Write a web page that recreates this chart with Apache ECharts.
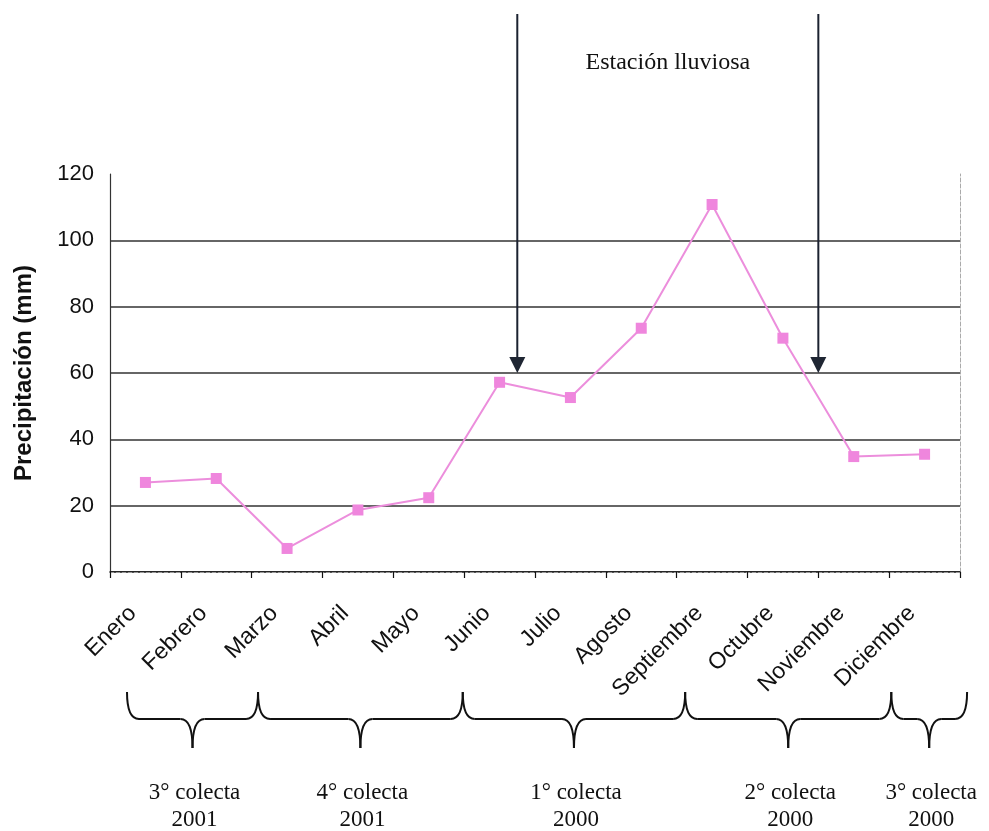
<!DOCTYPE html>
<html><head><meta charset="utf-8">
<script src="https://cdn.jsdelivr.net/npm/echarts@6/dist/echarts.min.js"></script>
<style>html,body{margin:0;padding:0;background:#fff}#c{width:989px;height:831px}</style>
</head><body><div id="c"></div>
<script>
// ---- data ----
const months = ['Enero','Febrero','Marzo','Abril','Mayo','Junio','Julio','Agosto','Septiembre','Octubre','Noviembre','Diciembre'];
const precipitation = [27, 28.2, 7.1, 18.7, 22.4, 57.2, 52.6, 73.5, 110.8, 70.5, 34.8, 35.5];
const yMin = 0, yMax = 120, yStep = 20;
const yTitle = 'Precipitación (mm)';
// arrows marking the rainy season, on a month-boundary scale (0 = start of Enero, 12 = end of Diciembre)
const arrowPositions = [5.75, 10];
const arrowTipValue = 60;
const seasonLabel = 'Estación lluviosa';
// collection-period braces (edges on the same month-boundary scale)
const braceEdges = [0.24, 2.09, 4.98, 8.12, 11.03, 12.1];
const braceLabels = ['3° colecta\n2001', '4° colecta\n2001', '1° colecta\n2000', '2° colecta\n2000', '3° colecta\n2000'];

// ---- chart ----
const SANS = '"Liberation Sans", Arial, sans-serif';
const SERIF = '"Liberation Serif", "Times New Roman", serif';
const chart = echarts.init(document.getElementById('c'), null, {renderer: 'canvas'});
const splitColors = [];
for (let v = yMin; v <= yMax; v += yStep) splitColors.push(v === yMax ? 'rgba(0,0,0,0)' : '#333');

chart.setOption({
  animation: false,
  backgroundColor: '#fff',
  grid: {left: 110, top: 174, right: 29, bottom: 259, containLabel: false},
  xAxis: [
    {
      type: 'category', data: months, position: 'bottom', boundaryGap: true,
      axisLine: {lineStyle: {color: '#111', width: 1.5}},
      axisTick: {show: true, length: 6, lineStyle: {color: '#111', width: 1.2}},
      axisLabel: {rotate: 45, interval: 0, fontSize: 23, fontFamily: SANS, color: '#111', margin: 25, padding: [0, 18, 0, 0]},
      splitLine: {show: false}
    },
    {
      type: 'value', min: 0, max: 12, position: 'top',
      axisLine: {show: true, lineStyle: {color: '#999', type: 'dashed', width: 1}},
      axisTick: {show: false}, axisLabel: {show: false}, splitLine: {show: false}
    }
  ],
  yAxis: [
    {
      type: 'value', min: yMin, max: yMax, interval: yStep,
      name: yTitle, nameLocation: 'middle', nameGap: 74, nameRotate: 90,
      nameTextStyle: {fontSize: 24, fontWeight: 'bold', fontFamily: SANS, color: '#111'},
      axisLine: {show: true, lineStyle: {color: '#333', width: 1.2}},
      axisTick: {show: false},
      axisLabel: {fontSize: 22, fontFamily: SANS, color: '#111', margin: 16},
      splitLine: {show: true, lineStyle: {color: splitColors, width: 1.5}}
    },
    {
      type: 'value', min: yMin, max: yMax, interval: yStep, position: 'right',
      axisLine: {show: true, lineStyle: {color: '#aaa', type: 'dashed', width: 1}},
      axisTick: {show: false}, axisLabel: {show: false}, splitLine: {show: false}
    }
  ],
  series: [{
    type: 'line', data: precipitation, xAxisIndex: 0, yAxisIndex: 0,
    symbol: 'rect', symbolSize: 11,
    lineStyle: {color: '#ec8edc', width: 2},
    itemStyle: {color: '#ef86dd'},
    z: 5
  }]
});

// ---- overlays computed through the axes ----
const px = v => chart.convertToPixel({xAxisIndex: 1}, v);
const py = v => chart.convertToPixel({yAxisIndex: 0}, v);
const ARROW_TOP = 14, HEAD_W = 8, HEAD_H = 16;
const BRACE_TOP = 692, BRACE_MID = 719, BRACE_TIP = 748, R = 12;
const LABEL_Y = 806;
const g = [];
const tipY = py(arrowTipValue);
const arrowXs = arrowPositions.map(px);
arrowXs.forEach(x => {
  g.push({type: 'line', shape: {x1: x, y1: ARROW_TOP, x2: x, y2: tipY - HEAD_H + 2}, style: {stroke: '#1b2230', lineWidth: 2}, z: 20});
  g.push({type: 'polygon', shape: {points: [[x - HEAD_W, tipY - HEAD_H], [x + HEAD_W, tipY - HEAD_H], [x, tipY]]}, style: {fill: '#1f2633'}, z: 20});
});
g.push({type: 'text', x: (arrowXs[0] + arrowXs[arrowXs.length - 1]) / 2, y: 63,
  style: {text: seasonLabel, font: '24px ' + SERIF, fill: '#111', align: 'center', verticalAlign: 'middle'}, z: 20});

const stroke = {stroke: '#111', lineWidth: 2, fill: null};
const curve = (x1, y1, cx, cy, x2, y2) => ({type: 'bezierCurve', shape: {x1, y1, cpx1: cx, cpy1: cy, x2, y2}, style: stroke, z: 20});
const seg = (x1, y1, x2, y2) => ({type: 'line', shape: {x1, y1, x2, y2}, style: stroke, z: 20});
for (let i = 0; i < braceLabels.length; i++) {
  const xa = px(braceEdges[i]), xb = px(braceEdges[i + 1]), xm = (xa + xb) / 2;
  g.push(curve(xa, BRACE_TOP, xa, BRACE_MID, xa + R, BRACE_MID));
  g.push(seg(xa + R, BRACE_MID, xm - R, BRACE_MID));
  g.push(curve(xm - R, BRACE_MID, xm, BRACE_MID, xm, BRACE_TIP));
  g.push(curve(xm, BRACE_TIP, xm, BRACE_MID, xm + R, BRACE_MID));
  g.push(seg(xm + R, BRACE_MID, xb - R, BRACE_MID));
  g.push(curve(xb - R, BRACE_MID, xb, BRACE_MID, xb, BRACE_TOP));
  g.push({type: 'text', x: xm + 2, y: LABEL_Y,
    style: {text: braceLabels[i], font: '23px ' + SERIF, fill: '#111', align: 'center', verticalAlign: 'middle', lineHeight: 27}, z: 20});
}
chart.setOption({graphic: g});
</script>
</body></html>
